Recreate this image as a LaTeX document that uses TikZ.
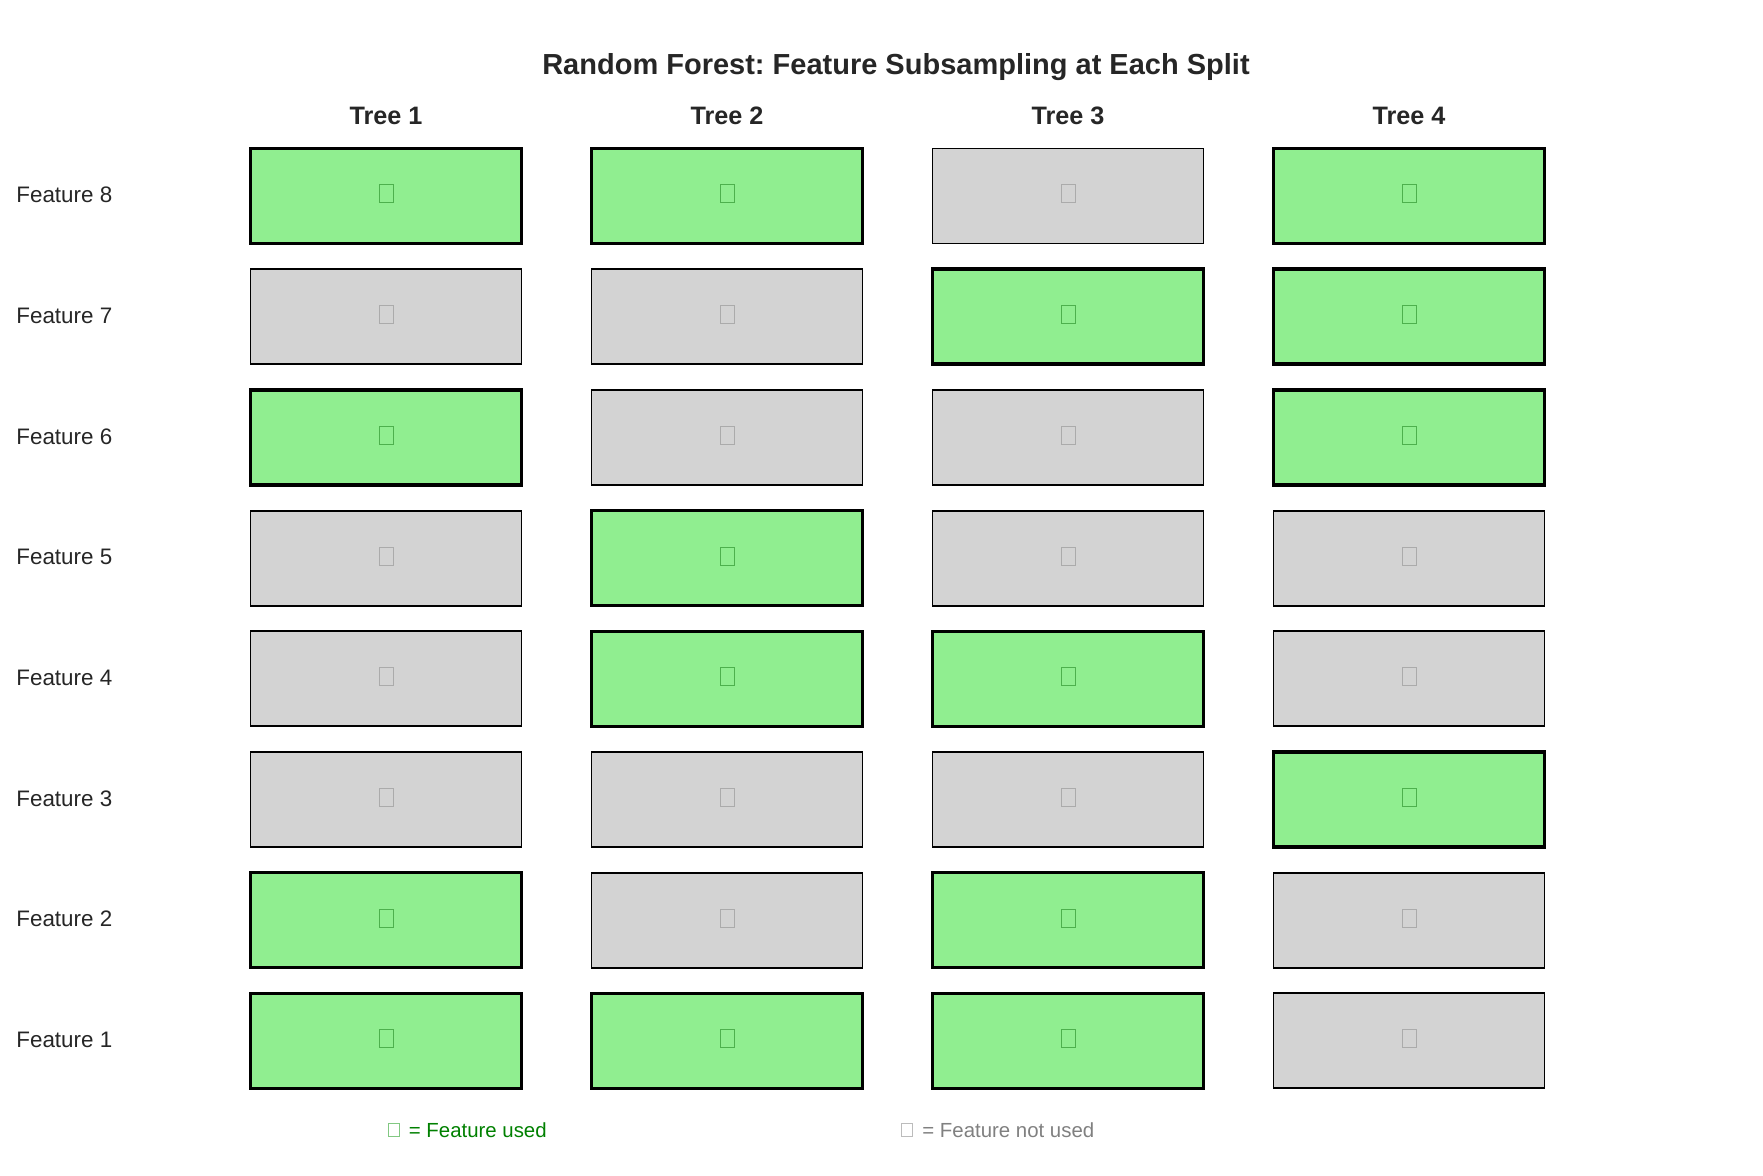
\documentclass[tikz,border=0pt]{standalone}
\usepackage{fontspec}
\setmainfont{Liberation Sans}
\usepackage{tikz}
\usetikzlibrary{positioning}
\frenchspacing
\definecolor{usedfill}{HTML}{90EE90}
\definecolor{unusedfill}{HTML}{D3D3D3}
\definecolor{usedglyph}{HTML}{4DB04D}
\definecolor{unusedglyph}{HTML}{ABABAB}
\definecolor{labeltext}{HTML}{262626}
\definecolor{legendgreen}{HTML}{008000}
\definecolor{legendgray}{HTML}{808080}
\tikzset{
  cell/.style={rectangle,draw=black,minimum width=135.5pt,minimum height=47.5pt,inner sep=0pt},
  cell1/.style={cell,fill=usedfill,line width=1.7pt},
  cell0/.style={cell,fill=unusedfill,line width=0.95pt},
  tofu/.style={rectangle,minimum width=7pt,minimum height=9pt,inner sep=0pt,line width=0.5pt},
  tofu1/.style={tofu,draw=usedglyph},
  tofu0/.style={tofu,draw=unusedglyph},
  title/.style={font=\fontsize{14.5}{17}\selectfont\bfseries,text=labeltext},
  treehead/.style={font=\fontsize{12.6}{15}\selectfont\bfseries,text=labeltext},
  featlabel/.style={font=\fontsize{11.2}{13}\selectfont,text=labeltext,anchor=west,inner sep=0pt},
  legtext/.style={font=\fontsize{10.2}{12}\selectfont,anchor=west,inner sep=0pt},
}

\begin{document}
\begin{tikzpicture}[x=0.5pt,y=-0.5pt]
    \useasboundingbox (0,0) rectangle (1763,1176);
    \node[title] (ttl) at (896,67) {Random Forest: Feature Subsampling at Each Split};
    \foreach \t in {1,2,3,4}
      \node[treehead] (h\t) at ({386+341*(\t-1)},116) {Tree \t};
    % one row per feature, 1 = used by that tree
    \foreach \f/\row in {8/{1,1,0,1},7/{0,0,1,1},6/{1,0,0,1},5/{0,1,0,0},
                         4/{0,1,1,0},3/{0,0,0,1},2/{1,0,1,0},1/{1,1,1,0}} {
      \node[featlabel] (l\f) at (16,{195+120.7*(8-\f)}) {Feature \f};
      \foreach \s [count=\t] in \row {
        \node[cell\s] (c\t-\f) at ({386+341*(\t-1)},{196+120.7*(8-\f)}) {};
        \node[tofu\s] (g\t-\f) at ([yshift=1pt]c\t-\f.center) {};
      }
    }
    \node[tofu,draw=usedglyph!70,minimum width=5.5pt,minimum height=6.5pt] (lg1) at (393.5,1130) {};
    \node[legtext,text=legendgreen,right=4.5pt of lg1] (lt1) {= Feature used};
    \node[tofu,draw=unusedglyph!80,minimum width=5.5pt,minimum height=6.5pt] (lg0) at (907,1130) {};
    \node[legtext,text=legendgray,right=4.5pt of lg0] (lt0) {= Feature not used};
\end{tikzpicture}
\end{document}
